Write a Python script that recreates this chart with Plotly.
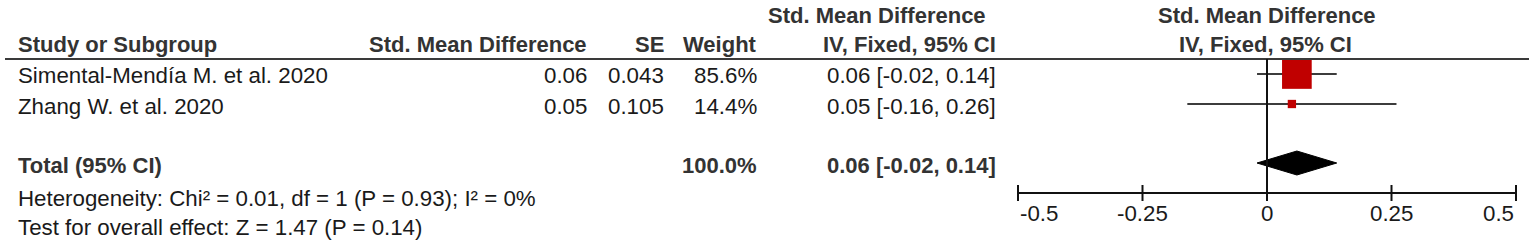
import plotly.graph_objects as go

# ---------------- data ----------------
studies = ["Simental-Mendía M. et al. 2020", "Zhang W. et al. 2020"]
smd_text = ["0.06", "0.05"]
se_text = ["0.043", "0.105"]
weights = [85.6, 14.4]
est = [0.06, 0.05]
ci_lo = [-0.02, -0.16]
ci_hi = [0.14, 0.26]
ci_text = ["0.06 [-0.02, 0.14]", "0.05 [-0.16, 0.26]"]

total_label = "Total (95% CI)"
total_weight = "100.0%"
total_est = 0.06
total_lo = -0.02
total_hi = 0.14
total_text = "0.06 [-0.02, 0.14]"
heterogeneity = "Heterogeneity: Chi² = 0.01, df = 1 (P = 0.93); I² = 0%"
overall = "Test for overall effect: Z = 1.47 (P = 0.14)"

tick_vals = [-0.5, -0.25, 0, 0.25, 0.5]
tick_text = ["-0.5", "-0.25", "0", "0.25", "0.5"]

# ---------------- layout geometry (pixels) ----------------
W, H = 1535, 246
AX_L_PX, AX_R_PX = 1018, 1516          # pixel positions of -0.5 and 0.5
AX_MIN, AX_MAX = -0.5, 0.5
scale = (AX_R_PX - AX_L_PX) / (AX_MAX - AX_MIN)
x0 = AX_MIN - AX_L_PX / scale
x1 = AX_MIN + (W - AX_L_PX) / scale

FONT = "Liberation Sans, Arial, sans-serif"
FS = 22.3
FSB = 22
TXT = "#1a1a1a"
HDR = "#333333"
RED = "#C00000"

Y_H1, Y_H2, Y_LINE = 15, 44, 59
Y_ROWS = [74, 104]
Y_ROWS_TXT = [75, 106]
Y_TOTAL = 165
Y_HET, Y_TEST = 198, 227
Y_AXIS, Y_TICKLAB = 193, 213

fig = go.Figure()

# CI lines
for i in range(len(studies)):
    fig.add_trace(go.Scatter(x=[ci_lo[i], ci_hi[i]], y=[Y_ROWS[i], Y_ROWS[i]], mode="lines",
                             line=dict(color="#3c3c3c", width=2), hoverinfo="skip", showlegend=False))

# weight boxes
fig.add_trace(go.Scatter(x=est, y=Y_ROWS, mode="markers",
                         marker=dict(symbol="square", color=RED, opacity=1,
                                     size=[4 + 0.3 * w for w in weights], line=dict(width=0)),
                         hoverinfo="skip", showlegend=False))

# diamond
fig.add_trace(go.Scatter(x=[total_lo, total_est, total_hi, total_est, total_lo],
                         y=[Y_TOTAL - 2, Y_TOTAL - 14, Y_TOTAL - 2, Y_TOTAL + 10, Y_TOTAL - 2],
                         mode="lines", fill="toself", fillcolor="black",
                         line=dict(color="black", width=1), hoverinfo="skip", showlegend=False))

shapes = []
# header rule
shapes.append(dict(type="line", xref="paper", yref="y", x0=5 / W, x1=1529 / W, y0=Y_LINE, y1=Y_LINE,
                   line=dict(color="#3a3a3a", width=2)))
# null line
shapes.append(dict(type="line", xref="x", yref="y", x0=0, x1=0, y0=Y_LINE, y1=Y_AXIS,
                   line=dict(color="#111111", width=2)))
# axis line
shapes.append(dict(type="line", xref="x", yref="y", x0=AX_MIN, x1=AX_MAX, y0=Y_AXIS, y1=Y_AXIS,
                   line=dict(color="#111111", width=2)))
for tv in tick_vals:
    shapes.append(dict(type="line", xref="x", yref="y", x0=tv, x1=tv, y0=Y_AXIS - 8, y1=Y_AXIS + 8,
                       line=dict(color="#111111", width=2)))

ann = []


def t(text, px, y, anchor="left", bold=False, color=TXT):
    ann.append(dict(text=("<b>%s</b>" % text) if bold else text, xref="paper", yref="y", x=px / W, y=y,
                    xanchor=anchor, yanchor="middle", showarrow=False,
                    font=dict(family=FONT, size=FSB if bold else FS, color=color)))


# headers
t("Std. Mean Difference", 877, Y_H1, "center", True, HDR)
t("Std. Mean Difference", 1267, Y_H1, "center", True, HDR)
t("Study or Subgroup", 16, Y_H2, "left", True, HDR)
t("Std. Mean Difference", 589, Y_H2, "right", True, HDR)
t("SE", 666, Y_H2, "right", True, HDR)
t("Weight", 759, Y_H2, "right", True, HDR)
t("IV, Fixed, 95% CI", 998, Y_H2, "right", True, HDR)
t("IV, Fixed, 95% CI", 1265, Y_H2, "center", True, HDR)

# rows
for i in range(len(studies)):
    y = Y_ROWS_TXT[i]
    t(studies[i], 16, y)
    t(smd_text[i], 589, y, "right")
    t(se_text[i], 666, y, "right")
    t("%.1f%%" % weights[i], 759, y, "right")
    t(ci_text[i], 998, y, "right")

# total
t(total_label, 16, Y_TOTAL, "left", True, HDR)
t(total_weight, 759, Y_TOTAL, "right", True, HDR)
t(total_text, 998, Y_TOTAL, "right", True, HDR)
t(heterogeneity, 16, Y_HET)
t(overall, 16, Y_TEST)

# tick labels
for k, (tv, tt) in enumerate(zip(tick_vals, tick_text)):
    anchor = "left" if k == 0 else ("right" if k == len(tick_vals) - 1 else "center")
    ann.append(dict(text=tt, xref="x", yref="y", x=tv, y=Y_TICKLAB, xanchor=anchor, yanchor="middle",
                    showarrow=False, font=dict(family=FONT, size=FS, color=TXT)))

fig.update_layout(
    width=W, height=H, margin=dict(l=0, r=0, t=0, b=0),
    paper_bgcolor="white", plot_bgcolor="white",
    xaxis=dict(range=[x0, x1], visible=False, fixedrange=True),
    yaxis=dict(range=[H, 0], visible=False, fixedrange=True),
    shapes=shapes, annotations=ann, showlegend=False,
)

fig.write_html("out.html", post_script="document.body.style.margin='0';",
               config={"displayModeBar": False})
